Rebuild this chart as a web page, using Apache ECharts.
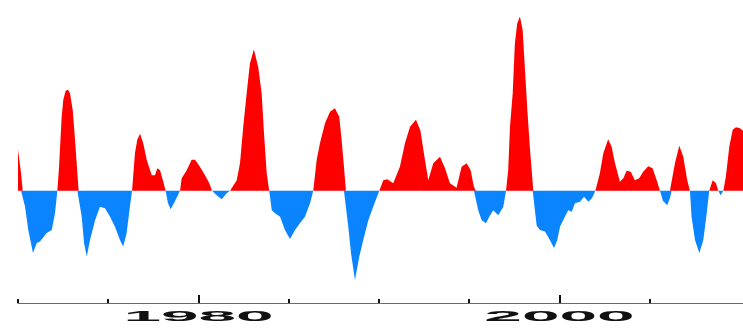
<!DOCTYPE html>
<html>
<head>
<meta charset="utf-8">
<script src="https://cdn.jsdelivr.net/npm/echarts@6/dist/echarts.min.js"></script>
<style>
  html, body { margin: 0; padding: 0; background: #ffffff; }
  #chart { width: 743px; height: 332px; }
</style>
</head>
<body>
<div id="chart"></div>
<script>
// ENSO-style index anomaly, sampled along the record (decimal years)
const years1970s = [1970.00, 1970.17, 1970.26, 1970.39, 1970.57, 1970.83, 1971.04, 1971.22, 1971.59, 1971.87,
  1972.05, 1972.18, 1972.27, 1972.42, 1972.51, 1972.64, 1972.77, 1972.88, 1973.03, 1973.16,
  1973.29, 1973.36, 1973.53, 1973.66, 1973.81, 1973.99, 1974.27, 1974.54, 1974.82, 1975.10,
  1975.37, 1975.65, 1975.83, 1976.02, 1976.20, 1976.32, 1976.48, 1976.61, 1976.76, 1976.94,
  1977.13, 1977.41, 1977.59, 1977.72, 1977.87, 1978.05, 1978.18, 1978.31, 1978.46, 1978.64,
  1978.98, 1979.07, 1979.35, 1979.62, 1979.81];
const values1970s = [0.82, 0.35, 0.00, -0.32, -0.79, -1.25, -1.05, -1.02, -0.85, -0.79,
  -0.45, 0.00, 0.45, 1.48, 1.82, 2.00, 2.02, 1.95, 1.62, 1.02,
  0.35, 0.00, -0.52, -1.05, -1.32, -0.99, -0.59, -0.32, -0.35, -0.52,
  -0.72, -0.99, -1.12, -0.85, -0.32, 0.00, 0.75, 1.02, 1.14, 0.95,
  0.62, 0.31, 0.31, 0.45, 0.41, 0.18, 0.00, -0.25, -0.37, -0.25,
  0.00, 0.25, 0.41, 0.62, 0.62];

const years1980s = [1980.08, 1980.36, 1980.60, 1980.75, 1981.01, 1981.29, 1981.56, 1981.75, 1982.12, 1982.30,
  1982.48, 1982.67, 1982.85, 1983.07, 1983.31, 1983.50, 1983.63, 1983.78, 1983.92, 1984.06,
  1984.24, 1984.52, 1984.79, 1985.07, 1985.35, 1985.62, 1985.90, 1986.18, 1986.36, 1986.55,
  1986.73, 1987.01, 1987.29, 1987.56, 1987.80, 1987.93, 1988.06, 1988.17, 1988.30, 1988.45,
  1988.67, 1988.91, 1989.13, 1989.41, 1989.68];
const values1980s = [0.48, 0.31, 0.15, 0.00, -0.09, -0.17, -0.05, 0.00, 0.21, 0.55,
  1.28, 1.95, 2.55, 2.83, 2.48, 1.95, 1.15, 0.35, 0.00, -0.39,
  -0.45, -0.52, -0.79, -0.97, -0.79, -0.65, -0.52, -0.25, 0.00, 0.62,
  0.95, 1.35, 1.58, 1.65, 1.48, 1.02, 0.48, 0.00, -0.72, -1.25,
  -1.79, -1.32, -0.99, -0.59, -0.32];

const years1990s = [1990.02, 1990.24, 1990.46, 1990.79, 1991.16, 1991.44, 1991.72, 1992.05, 1992.30, 1992.49,
  1992.73, 1993.01, 1993.38, 1993.66, 1993.93, 1994.30, 1994.58, 1994.86, 1995.08, 1995.26,
  1995.37, 1995.50, 1995.69, 1995.93, 1996.11, 1996.33, 1996.61, 1996.89, 1997.04, 1997.16,
  1997.26, 1997.41, 1997.53, 1997.66, 1997.81, 1997.96, 1998.09, 1998.22, 1998.37, 1998.52,
  1998.55, 1998.64, 1998.74, 1998.92, 1999.20, 1999.47, 1999.70, 1999.88];
const values1990s = [0.00, 0.21, 0.23, 0.15, 0.48, 0.95, 1.28, 1.42, 1.20, 0.75,
  0.21, 0.55, 0.68, 0.45, 0.15, 0.06, 0.48, 0.55, 0.41, 0.08,
  0.00, -0.39, -0.59, -0.65, -0.52, -0.39, -0.49, -0.32, 0.00, 0.41,
  1.28, 1.95, 2.95, 3.35, 3.49, 3.22, 2.42, 1.62, 0.82, 0.15,
  0.00, -0.39, -0.70, -0.79, -0.82, -0.99, -1.15, -0.99];

const years2000s = [2000.03, 2000.30, 2000.49, 2000.68, 2000.86, 2001.14, 2001.36, 2001.60, 2001.80, 2001.99,
  2002.24, 2002.43, 2002.70, 2002.89, 2003.08, 2003.35, 2003.54, 2003.72, 2003.95, 2004.18,
  2004.42, 2004.64, 2004.92, 2005.16, 2005.39, 2005.57, 2005.73, 2005.97, 2006.12, 2006.22,
  2006.40, 2006.64, 2006.86, 2007.08, 2007.23, 2007.32, 2007.51, 2007.75, 2007.97, 2008.16,
  2008.30, 2008.49, 2008.67, 2008.80, 2008.93, 2009.08, 2009.22, 2009.41, 2009.60, 2009.78,
  2010.00, 2010.17];
const values2000s = [-0.72, -0.52, -0.39, -0.42, -0.25, -0.22, -0.12, -0.22, -0.15, 0.00,
  0.35, 0.75, 1.03, 0.88, 0.55, 0.18, 0.25, 0.40, 0.38, 0.21,
  0.25, 0.38, 0.49, 0.45, 0.21, 0.00, -0.20, -0.29, -0.15, 0.00,
  0.55, 0.90, 0.68, 0.21, 0.00, -0.52, -0.99, -1.25, -0.99, -0.45,
  0.00, 0.21, 0.15, 0.00, -0.09, 0.00, 0.28, 0.88, 1.22, 1.27,
  1.25, 1.20];

// Axis ticks and labelled years
const minorTickYears = [1970, 1975, 1985, 1990, 1995, 2005];
const majorTickYears = [1980, 2000];

const years = years1970s.concat(years1980s, years1990s, years2000s);
const values = values1970s.concat(values1980s, values1990s, values2000s);
// Warm (above zero) and cold (below zero) parts of the same record
const warmData = years.map((y, i) => [y, Math.max(values[i], 0)]);
const coldData = years.map((y, i) => [y, Math.min(values[i], 0)]);

const chart = echarts.init(document.getElementById('chart'), null, { renderer: 'canvas' });

const xBase = {
  type: 'value',
  min: 1970,
  max: 2010.17,
  position: 'bottom',
  splitLine: { show: false },
  axisLabel: { show: false }
};

function areaSeries(data, color) {
  return {
    type: 'line',
    data: data,
    showSymbol: false,
    symbol: 'none',
    smooth: false,
    lineStyle: { width: 0, opacity: 0, color: color },
    itemStyle: { color: color },
    areaStyle: { color: color, opacity: 1, origin: 0 }
  };
}

chart.setOption({
  animation: false,
  backgroundColor: '#ffffff',
  grid: { left: 18, right: 0, top: 0, bottom: 29 },
  xAxis: [
    Object.assign({}, xBase, {
      axisLine: { show: true, onZero: false, lineStyle: { color: '#6a6a6a', width: 1 } },
      axisTick: { show: true, inside: true, length: 4, customValues: minorTickYears,
                  lineStyle: { color: '#111111', width: 2 } }
    }),
    Object.assign({}, xBase, {
      axisLine: { show: false, onZero: false },
      axisTick: { show: true, inside: true, length: 8, customValues: majorTickYears,
                  lineStyle: { color: '#111111', width: 2 } }
    })
  ],
  yAxis: {
    type: 'value',
    min: -2.25,
    max: 3.82,
    show: false,
    splitLine: { show: false }
  },
  series: [
    areaSeries(warmData, '#ff0000'),
    areaSeries(coldData, '#0a84ff')
  ]
});

// Stretched year labels centred under the major ticks
const labelGraphics = majorTickYears.map(yr => ({
  type: 'text',
  x: chart.convertToPixel({ xAxisIndex: 0 }, yr),
  y: 317,
  scaleX: 4.5,
  style: {
    text: String(yr),
    x: 0,
    y: 0,
    align: 'center',
    verticalAlign: 'middle',
    fontFamily: 'Liberation Sans, Arial, sans-serif',
    fontWeight: 'bold',
    fontSize: 15,
    fill: '#111111'
  }
}));
chart.setOption({ graphic: labelGraphics });
</script>
</body>
</html>
